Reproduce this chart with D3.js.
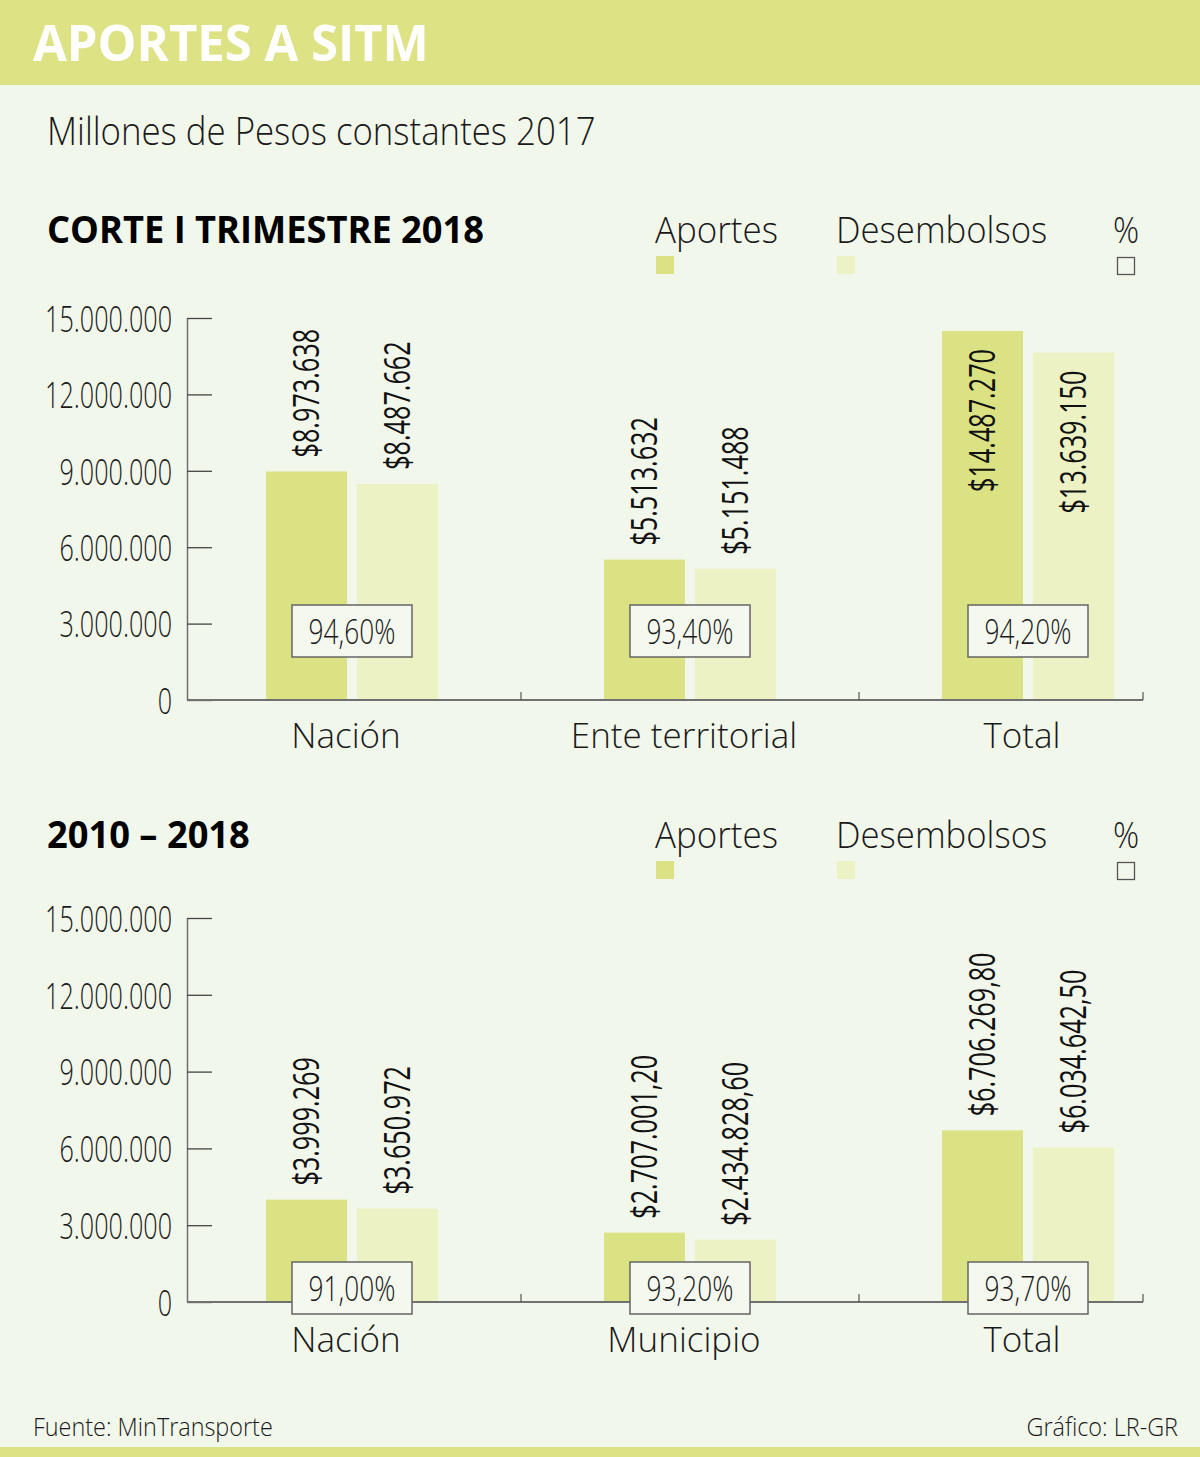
<!DOCTYPE html>
<html>
<head>
<meta charset="utf-8">
<script src="https://cdn.jsdelivr.net/npm/d3@7"></script>
<style>
  body { margin: 0; background: #f2f7eb; }
  svg { display: block; }
</style>
</head>
<body>
<svg id="chart"></svg>
<script>
// data
const series = ["Aportes", "Desembolsos"];
const yTicks = [0, 3000000, 6000000, 9000000, 12000000, 15000000];

const trimCategories = ["Nación", "Ente territorial", "Total"];
const trimAportes = [8973638, 5513632, 14487270];
const trimDesembolsos = [8487662, 5151488, 13639150];
const trimPct = [94.6, 93.4, 94.2];

const histCategories = ["Nación", "Municipio", "Total"];
const histAportes = [3999269, 2707001.2, 6706269.8];
const histDesembolsos = [3650972, 2434828.6, 6034642.5];
const histPct = [91.0, 93.2, 93.7];

const W = 1200, H = 1457;
const colors = { bg: "#f2f7eb", band: "#dde385", Aportes: "#dbe283", Desembolsos: "#edf2c5", text: "#1a1a1a", axis: "#707070" };
const FONT = "'Open Sans', sans-serif";

const es = d3.formatLocale({ decimal: ",", thousands: ".", grouping: [3], currency: ["$", ""] });
const fmtInt = es.format(",.0f");
const fmtDec = es.format(",.2f");
const money = (v) => "$" + (Number.isInteger(v) ? fmtInt(v) : fmtDec(v));
const pct = (v) => fmtDec(v) + "%";

// narrow a text to k of its natural width (stand-in for a condensed face)
function squeeze(sel, k) {
    sel.each(function () {
        const w = this.getComputedTextLength();
        d3.select(this).attr("textLength", w * k).attr("lengthAdjust", "spacingAndGlyphs");
    });
}

function draw() {
    const svg = d3.select("#chart").attr("width", W).attr("height", H);

    svg.append("rect").attr("width", W).attr("height", H).attr("fill", colors.bg);
    svg.append("rect").attr("width", W).attr("height", 85).attr("fill", colors.band);
    svg.append("rect").attr("y", 1447).attr("width", W).attr("height", 10).attr("fill", colors.band);

    svg.append("text")
        .attr("x", 33).attr("y", 61)
        .attr("fill", "#fff")
        .style("font", `700 50px ${FONT}`)
        .text("APORTES A SITM")
        .call(squeeze, 0.98);

    svg.append("text")
        .attr("x", 47).attr("y", 145)
        .attr("fill", colors.text)
        .style("font", `300 38px ${FONT}`)
        .text("Millones de Pesos constantes 2017")
        .call(squeeze, 0.915);

    panel(svg, {
        heading: "CORTE I TRIMESTRE 2018",
        headY: 243, top: 318, base: 700, boxOff: 69, labOff: 48,
        cats: trimCategories, a: trimAportes, d: trimDesembolsos, p: trimPct
    });
    panel(svg, {
        heading: "2010 – 2018",
        headY: 848, top: 918, base: 1302, boxOff: 14, labOff: 50,
        cats: histCategories, a: histAportes, d: histDesembolsos, p: histPct
    });

    svg.append("text")
        .attr("x", 33).attr("y", 1436)
        .attr("fill", colors.text)
        .style("font", `300 26px ${FONT}`)
        .text("Fuente: MinTransporte")
        .call(squeeze, 0.9);
    svg.append("text")
        .attr("x", 1178).attr("y", 1436)
        .attr("text-anchor", "end")
        .attr("fill", colors.text)
        .style("font", `300 26px ${FONT}`)
        .text("Gráfico: LR-GR")
        .call(squeeze, 0.9);
}

function panel(svg, o) {
    const rows = o.cats.map((c, i) => ({ cat: c, Aportes: o.a[i], Desembolsos: o.d[i], pct: o.p[i] }));

    svg.append("text")
        .attr("x", 47).attr("y", o.headY)
        .attr("fill", "#000")
        .style("font", `700 37px ${FONT}`)
        .text(o.heading)
        .call(squeeze, 0.98);

    // legend
    const legend = svg.append("g");
    const lx = { Aportes: 655, Desembolsos: 836 };
    series.forEach((s) => {
        legend.append("text")
            .attr("x", lx[s]).attr("y", o.headY)
            .attr("fill", colors.text)
            .style("font", `300 36px ${FONT}`)
            .text(s)
            .call(squeeze, s === "Aportes" ? 0.97 : 0.965);
        legend.append("rect")
            .attr("x", lx[s] + 1).attr("y", o.headY + 13)
            .attr("width", 18).attr("height", 18)
            .attr("fill", colors[s]);
    });
    legend.append("text")
        .attr("x", 1126).attr("y", o.headY)
        .attr("text-anchor", "middle")
        .attr("fill", colors.text)
        .style("font", `300 36px ${FONT}`)
        .text("%")
        .call(squeeze, 0.9);
    legend.append("rect")
        .attr("x", 1117.5).attr("y", o.headY + 14.5)
        .attr("width", 17).attr("height", 17)
        .attr("fill", "none").attr("stroke", "#555").attr("stroke-width", 1.3);

    const x = d3.scaleBand().domain(o.cats).range([183, 1197]);
    const xs = d3.scaleBand().domain(series).range([83, 255]).paddingInner(0.11);
    const y = d3.scaleLinear().domain([0, 15000000]).range([o.base, o.top]);

    const g = svg.append("g");

    // bars
    const groups = g.selectAll(".grp").data(rows).join("g")
        .attr("class", "grp")
        .attr("transform", (d) => `translate(${x(d.cat)},0)`);

    groups.selectAll("rect").data((d) => series.map((s) => ({ s, v: d[s] }))).join("rect")
        .attr("x", (d) => xs(d.s))
        .attr("y", (d) => y(d.v))
        .attr("width", xs.bandwidth())
        .attr("height", (d) => y(0) - y(d.v))
        .attr("fill", (d) => colors[d.s]);

    // value labels, rotated; inside the bar if they would run off the top
    groups.selectAll(".val").data((d) => series.map((s) => ({ s, v: d[s] }))).join("text")
        .attr("class", "val")
        .attr("fill", "#111")
        .style("font", `400 36px ${FONT}`)
        .attr("dy", "0.36em")
        .text((d) => money(d.v))
        .call(squeeze, 0.7)
        .each(function (d) {
            const len = +this.getAttribute("textLength");
            const cx = xs(d.s) + xs.bandwidth() / 2;
            const top = y(d.v);
            const inside = top - 14 - len < o.top - 20;
            d3.select(this)
                .attr("text-anchor", inside ? "end" : "start")
                .attr("transform", `translate(${cx},${inside ? top + 18 : top - 14}) rotate(-90)`);
        });

    // y axis
    const yAxis = g.append("g")
        .attr("transform", "translate(187,0)")
        .call(d3.axisLeft(y).tickValues(yTicks).tickFormat(es.format(",.0f"))
            .tickSize(-25).tickSizeOuter(0).tickPadding(15));
    yAxis.select(".domain").attr("stroke", colors.axis).attr("stroke-width", 1.5);
    yAxis.selectAll(".tick line").attr("stroke", "#444").attr("stroke-width", 1.3);
    yAxis.selectAll(".tick text")
        .attr("fill", colors.text)
        .attr("dy", "0.36em")
        .style("font", `300 37px ${FONT}`)
        .call(squeeze, 0.68);

    // baseline with separators between categories
    g.append("line")
        .attr("x1", 187).attr("x2", 1143)
        .attr("y1", y(0)).attr("y2", y(0))
        .attr("stroke", colors.axis).attr("stroke-width", 1.8);
    const seps = o.cats.slice(1).map((c) => x(c)).concat([1143]);
    g.selectAll(".sep").data(seps).join("line")
        .attr("class", "sep")
        .attr("x1", (d) => d).attr("x2", (d) => d)
        .attr("y1", y(0) - 8).attr("y2", y(0))
        .attr("stroke", "#555").attr("stroke-width", 1.2);

    // percent boxes, on top of the baseline
    const boxes = g.selectAll(".pct").data(rows).join("g")
        .attr("class", "pct")
        .attr("transform", (d) => `translate(${x(d.cat) + x.bandwidth() / 2},${y(0) - o.boxOff})`);
    boxes.append("rect")
        .attr("x", -60).attr("y", -26)
        .attr("width", 120).attr("height", 52)
        .attr("fill", "#f4f8ee").attr("stroke", "#666").attr("stroke-width", 1.5);
    boxes.append("text")
        .attr("text-anchor", "middle")
        .attr("dy", "0.36em")
        .attr("fill", colors.text)
        .style("font", `300 35px ${FONT}`)
        .text((d) => pct(d.pct))
        .call(squeeze, 0.75);

    // category labels
    groups.append("text")
        .attr("x", x.bandwidth() / 2 - 6)
        .attr("y", y(0) + o.labOff)
        .attr("text-anchor", "middle")
        .attr("fill", colors.text)
        .style("font", `300 35px ${FONT}`)
        .text((d) => d.cat)
        .call(squeeze, 1.0);
}

document.fonts.ready.then(draw);
</script>
</body>
</html>
